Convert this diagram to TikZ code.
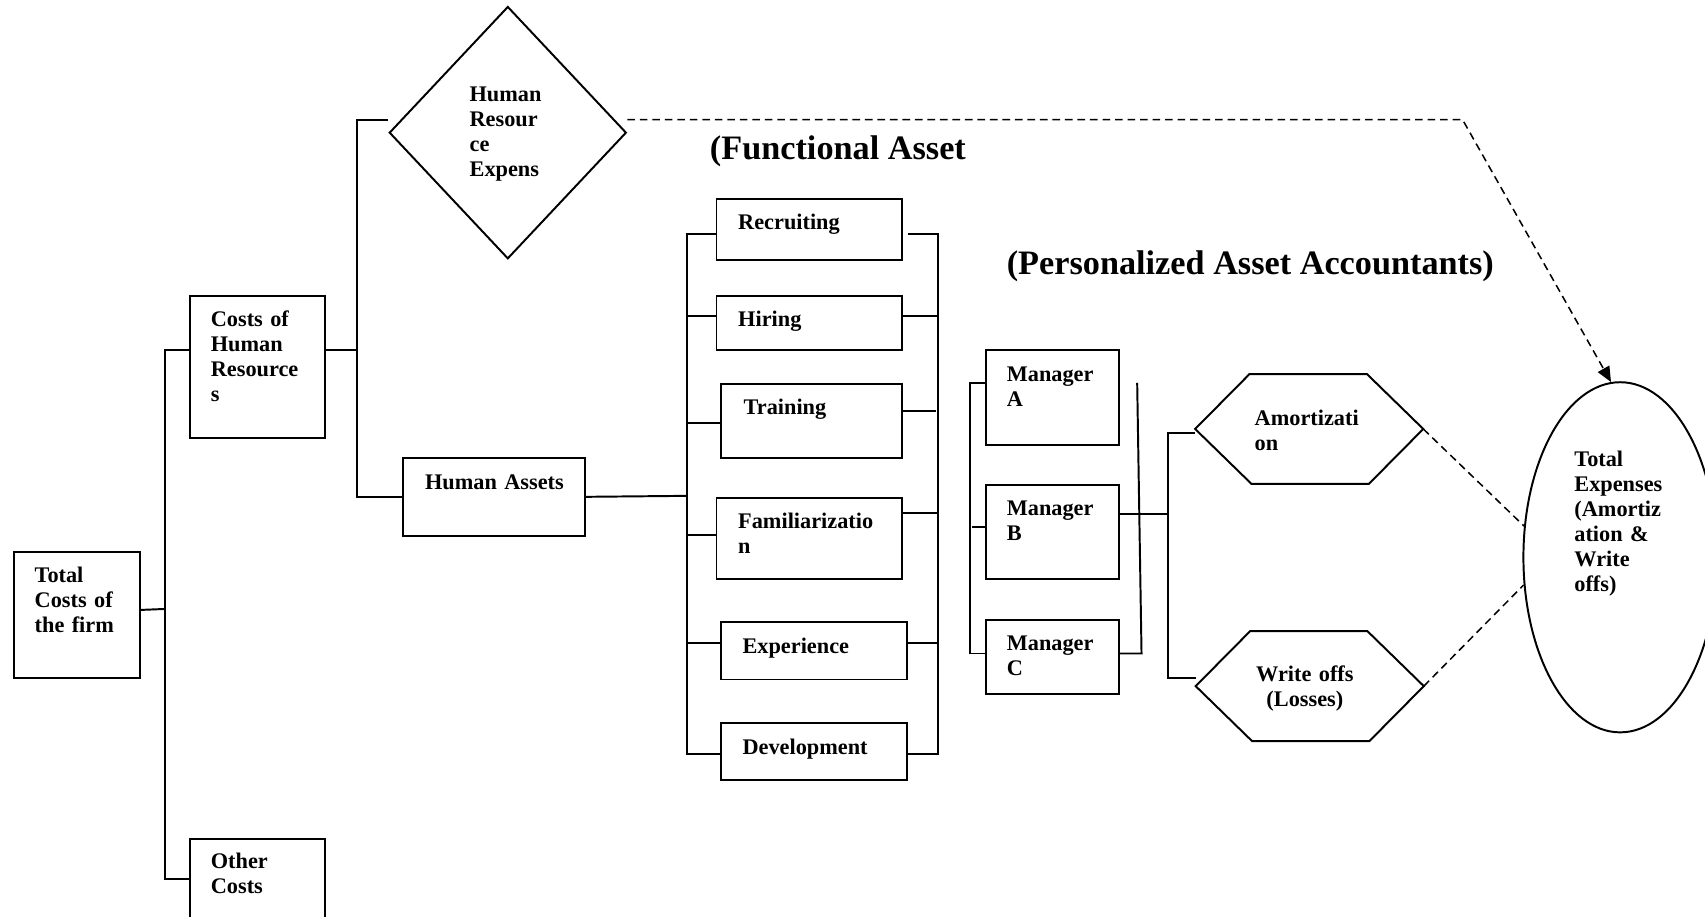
\documentclass[tikz,border=0pt]{standalone}
\usepackage{fontspec}
\setmainfont{Liberation Serif}
\usetikzlibrary{shapes.geometric,arrows.meta,calc}
\begin{document}
\begin{tikzpicture}[x=1pt,y=-1pt,line width=1.8pt,
  box/.style={draw, rectangle, inner sep=0pt, anchor=north west},
  txt/.style={font=\bfseries\fontsize{20.5}{23}\selectfont, inner sep=0pt, anchor=base west, align=left, text width=160pt},
  ttl/.style={font=\bfseries\fontsize{31.5}{36}\selectfont, inner sep=0pt, anchor=base west},
  dsh/.style={dash pattern=on 7pt off 4.5pt, line width=1.4pt}]
\useasboundingbox (0,0) rectangle (1568,843);
\clip (0,0) rectangle (1568,843);

% boxes
\node[box, minimum width=116pt, minimum height=116pt] (tc) at (12,507) {};
\node[box, minimum width=124pt, minimum height=131pt] (chr) at (174,271) {};
\node[box, minimum width=124pt, minimum height=100pt] (oc) at (174,771) {};
\node[box, minimum width=167pt, minimum height=72pt] (ha) at (370,420) {};
\node[box, minimum width=171pt, minimum height=56pt] (rec) at (658,182) {};
\node[box, minimum width=171pt, minimum height=50pt] (hir) at (658,271) {};
\node[box, minimum width=167pt, minimum height=68pt] (tra) at (662,352) {};
\node[box, minimum width=171pt, minimum height=75pt] (fam) at (658,457) {};
\node[box, minimum width=171pt, minimum height=53pt] (exp) at (662,571) {};
\node[box, minimum width=171pt, minimum height=52pt] (dev) at (662,664) {};
\node[box, minimum width=122pt, minimum height=87pt] (ma) at (906,321) {};
\node[box, minimum width=122pt, minimum height=87pt] (mb) at (906,445) {};
\node[box, minimum width=122pt, minimum height=68pt] (mc) at (906,569) {};

\node[draw, diamond, minimum width=218pt, minimum height=232pt, inner sep=0pt] (hre) at (467,122) {};
\node[draw, ellipse, minimum width=178pt, minimum height=322pt, inner sep=0pt] (te) at (1490,512.5) {};

% hexagons
\node[inner sep=0pt, minimum width=208pt, minimum height=101pt] (am) at (1204,394.5) {};
\draw (am.west) -- ++(50,-50.5) -- ++(108,0) -- (am.east) -- ++(-50,50.5) -- ++(-108,0) -- cycle;
\node[inner sep=0pt, minimum width=208pt, minimum height=101pt] (wo) at (1204.5,631) {};
\draw (wo.west) -- ++(50,-50.5) -- ++(108,0) -- (wo.east) -- ++(-50,50.5) -- ++(-108,0) -- cycle;

% texts
\node[txt] (tTC) at (31,536) {Total\\Costs of\\the firm};
\node[txt] (tCHR) at (193,300) {Costs of\\Human\\Resource\\s};
\node[txt] (tOC) at (193,799) {Other\\Costs};
\node[txt] (tHRE) at (431,93) {Human\\Resour\\ce\\Expens};
\node[txt] (tHA) at (390,450) {Human Assets};
\node[txt] (tRec) at (678,211) {Recruiting};
\node[txt] (tHir) at (678,300) {Hiring};
\node[txt] (tTra) at (683,381) {Training};
\node[txt] (tFam) at (678,486) {Familiarizatio\\n};
\node[txt] (tExp) at (682,601) {Experience};
\node[txt] (tDev) at (682,694) {Development};
\node[txt] (tMA) at (925,351) {Manager\\A};
\node[txt] (tMB) at (925,474) {Manager\\B};
\node[txt] (tMC) at (925,598) {Manager\\C};
\node[txt] (tAm) at (1153,391) {Amortizati\\on};
\node[txt, anchor=base, align=center, text width=120pt] (tWo) at (1200,627) {Write offs\\(Losses)};
\node[txt] (tTE) at (1447,429) {Total\\Expenses\\(Amortiz\\ation \&\\Write\\offs)};
\node[ttl] (tF) at (652,147) {(Functional Asset};
\node[ttl] (tP) at (925,252) {(Personalized Asset Accountants)};

% tree connectors
\coordinate (j1) at (152,560);
\draw ([yshift=5pt]tc.east) -- (j1);
\draw ($(chr.north west)+(0,51)$) -| (j1) |- ($(oc.north west)+(0,37)$);

\coordinate (j2) at (328,322);
\draw ($(chr.north east)+(0,51)$) -- (j2);
\draw ([yshift=12pt]hre.west) -| (j2) |- (ha.west);

\coordinate (j3) at (632,456);
\draw (ha.east) -- (j3);
\draw ($(rec.north west)+(0,33)$) -| (j3) |- ($(dev.north west)+(0,29)$);
\draw ($(hir.north west)+(0,20)$) coordinate (p1) -- (p1 -| j3);
\draw ($(tra.north west)+(0,37)$) coordinate (p2) -- (p2 -| j3);
\draw ($(fam.north west)+(0,35)$) coordinate (p3) -- (p3 -| j3);
\draw ($(exp.north west)+(0,20)$) coordinate (p4) -- (p4 -| j3);

\coordinate (rb) at (863,456);
\draw ($(rec.north east)+(4,33)$) -| (rb) |- ($(dev.north east)+(0,29)$);
\draw ($(hir.north east)+(0,20)$) coordinate (q1) -- (q1 -| rb);
\draw ($(tra.north east)+(-2,26)$) coordinate (q2) -- ([xshift=-2pt]q2 -| rb);
\draw ($(fam.north east)+(0,15)$) coordinate (q3) -- (q3 -| rb);
\draw ($(exp.north east)+(0,20)$) coordinate (q4) -- (q4 -| rb);

\coordinate (lm) at (892,485);
\draw ($(ma.north west)+(0,31)$) -| (lm) |- ($(mc.north west)+(0,32)$);
\draw ($(mb.north west)+(0,40)$) coordinate (m1) -- ([xshift=2pt]m1 -| lm);
\draw ($(ma.north east)+(16,31)$) -- ($(mc.north east)+(20,32)$) -- ($(mc.north east)+(0,32)$);

\coordinate (jm) at (1074,473);
\draw ($(mb.north east)+(0,28)$) -- (jm);
\draw ([yshift=-4pt]am.west) -| (jm) |- ([yshift=7.5pt]wo.west);

% dashed connectors
\coordinate (bend) at (1345,110);
\draw[dsh, -{Triangle[length=14pt,width=12pt]}] ([yshift=12pt]hre.east) -- (bend) -- (te.93);
\draw[dsh] (am.east) -- (te.162);
\draw[dsh] (wo.east) -- (te.196);
\end{tikzpicture}
\end{document}
